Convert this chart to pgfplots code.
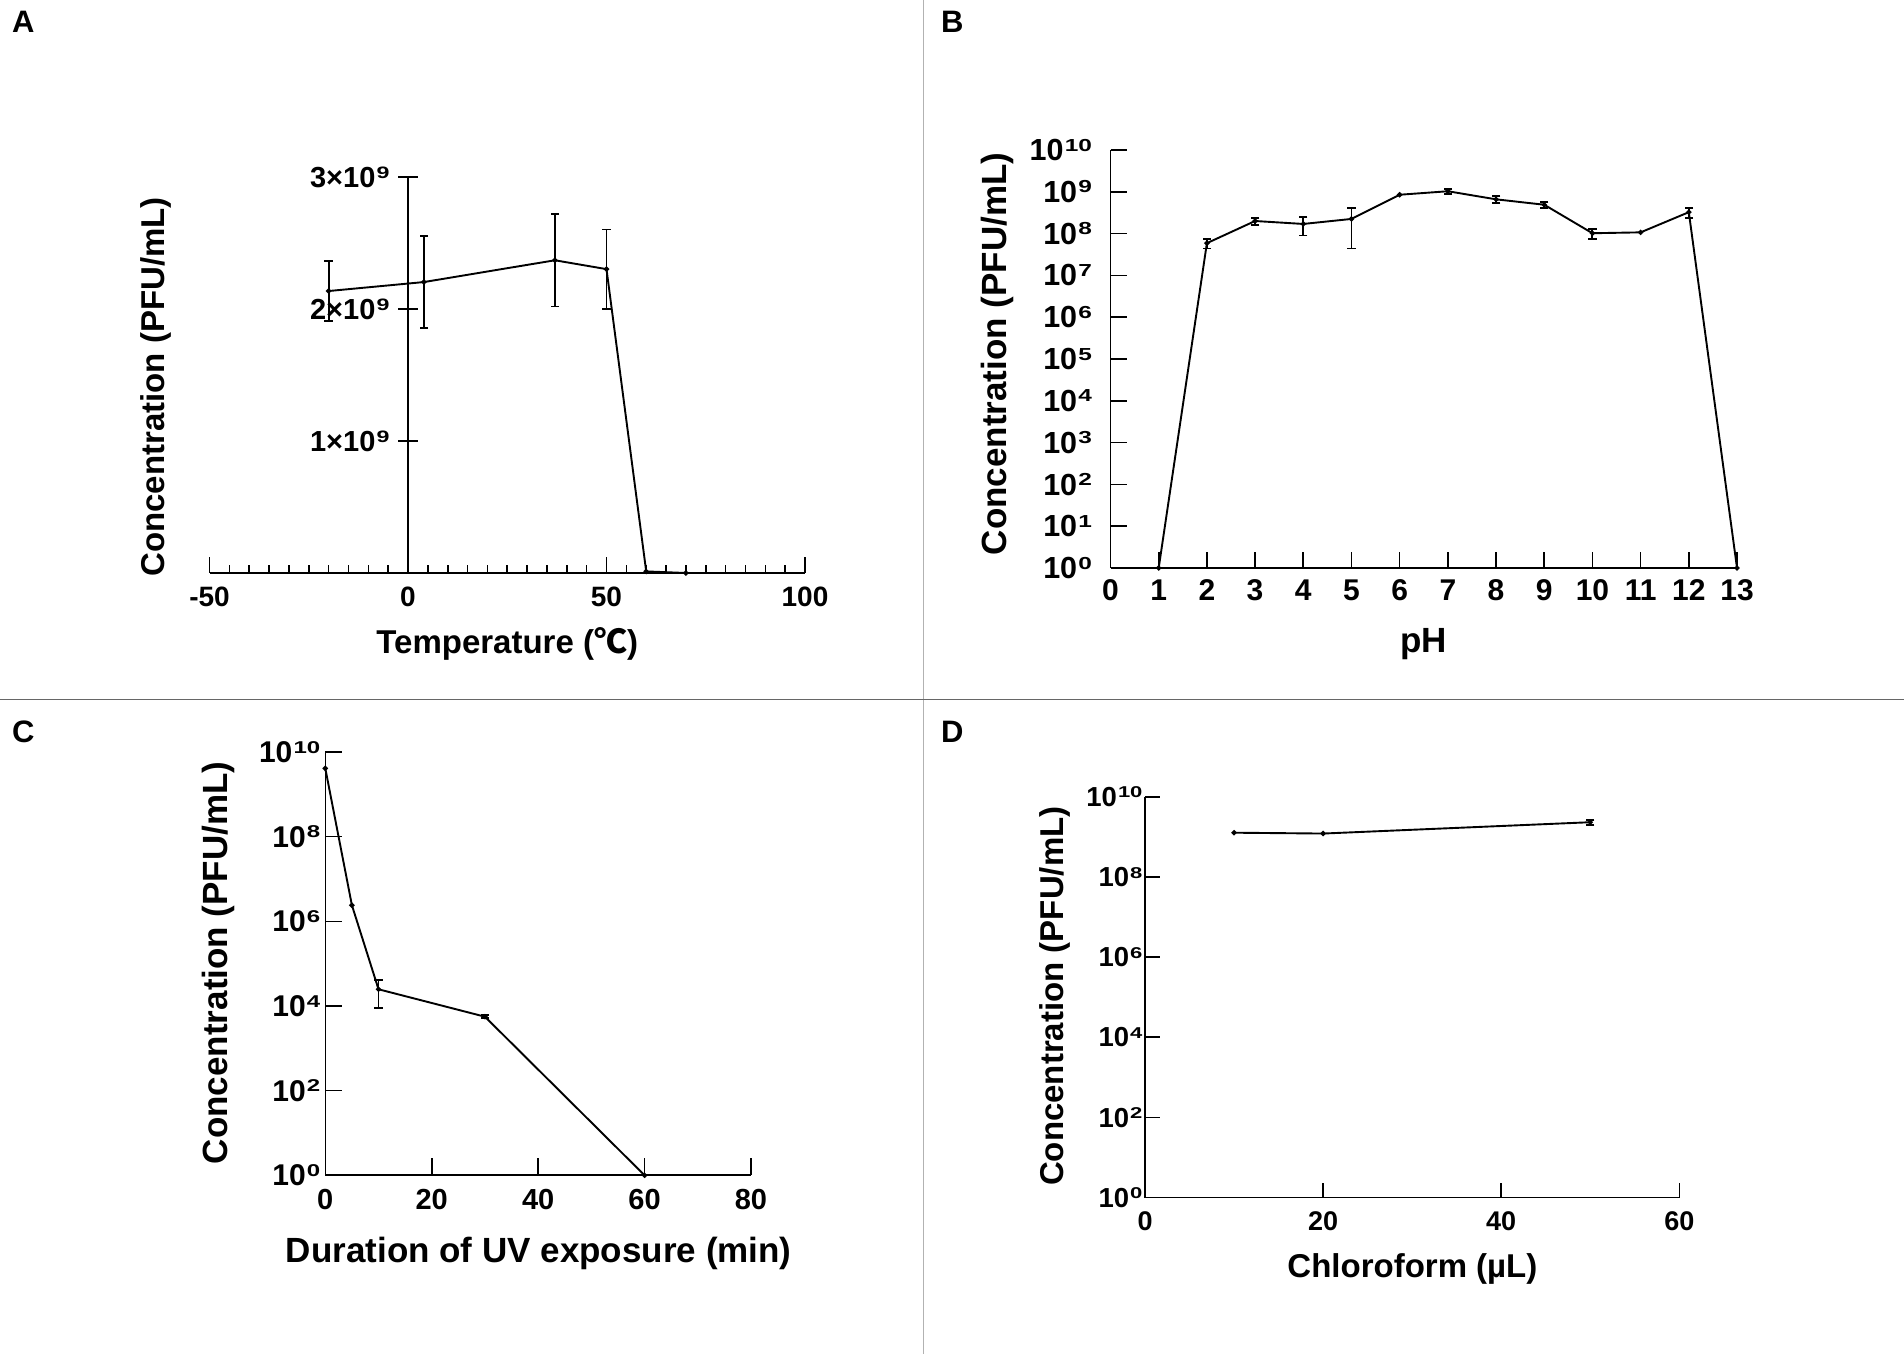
\documentclass[border=0pt]{standalone}
\usepackage{fontspec}
\setmainfont{Liberation Sans}
\newfontfamily\cjk{Noto Sans CJK SC}
\usepackage{graphicx}
\usepackage{pgfplots}
\pgfplotsset{compat=1.18}
\newcommand\sups[1]{\hspace{0.04em}\raisebox{0.31em}{\scalebox{0.8}[0.57]{#1}}}
\newcommand\fs[1]{\fontsize{#1}{#1}\selectfont\bfseries}
\pgfplotsset{
  panel/.style={
    scale only axis, anchor=south west, clip=false,
    axis x line=bottom, axis y line=left,
    axis line style={-, line width=1.6pt, black},
    tick align=inside, tick style={line width=1.6pt, black},
    xlabel style={anchor=center},
    ylabel style={anchor=center},
    unbounded coords=jump,
  },
  dat/.style={black, line width=1.9pt, mark=*, mark size=1.6pt, mark options={solid}},
  eb/.style={black, line width=1.9pt, mark=-, mark size=4.2pt, mark options={solid, line width=1.9pt}},
}
\begin{document}
\begin{tikzpicture}
\path[use as bounding box, fill=white] (0pt,0pt) rectangle (1904pt,1354pt);
\draw[gray!60, line width=1.5pt] (923.3pt,0pt) -- (923.3pt,1354pt);
\draw[gray!80!black, line width=1.3pt] (0pt,654.7pt) -- (1904pt,654.7pt);
\node[anchor=north west, inner sep=0, font=\fs{31}] at (12pt,1343pt) {A};
\node[anchor=north west, inner sep=0, font=\fs{31}] at (941pt,1343pt) {B};
\node[anchor=north west, inner sep=0, font=\fs{31}] at (12pt,633pt) {C};
\node[anchor=north west, inner sep=0, font=\fs{31}] at (941pt,633pt) {D};

% ---------------- Panel A ----------------
\begin{axis}[panel, at={(209.5pt,781pt)}, width=595.5pt, height=396pt,
  xmin=-50, xmax=100, ymin=0, ymax=3e9, axis y line=none,
  scaled y ticks=false,
  xtick={-50,0,50,100}, xticklabels={-50,0,50,100}, minor x tick num=9,
  major tick length=15.6pt, minor tick length=7.6pt,
  xticklabel shift=10pt,
  tick label style={font=\fs{28}}, label style={font=\fs{33}},
  xlabel={Temperature ({\cjk ℃})},
  xlabel style={at={(axis description cs:0.5,-0.179)}},
]
% mean values
\addplot[dat] table[x=x, y=y] {
x y
-20 2.136e9
4 2.204e9
37 2.369e9
50 2.302e9
60 0.012e9
70 0
};
% error bars (mean - SD, mean + SD)
\addplot[eb] coordinates {
(-20,1.906e9) (-20,2.366e9) (-20,nan)
(4,1.854e9) (4,2.554e9) (4,nan)
(37,2.019e9) (37,2.719e9) (37,nan)
(50,2.002e9) (50,2.602e9)
};
\end{axis}
\begin{axis}[scale only axis, anchor=south west, at={(408pt,781pt)}, width=1pt, height=396pt,
  xmin=0, xmax=1, ymin=0, ymax=3e9, scaled y ticks=false,
  axis x line=none, axis y line=left, axis line style={-, line width=1.6pt, black},
  tick align=center, major tick length=20pt, tick style={line width=1.6pt, black},
  ytick={1e9,2e9,3e9},
  yticklabels={1×10\sups{9},2×10\sups{9},3×10\sups{9}},
  yticklabel style={font=\fs{29}, anchor=east}, yticklabel shift=5pt,
  ylabel={Concentration (PFU/mL)}, label style={font=\fs{33}},
  ylabel style={at={(axis description cs:-252.6,0.470)}, anchor=center},
]
\end{axis}

% ---------------- Panel B ----------------
\begin{axis}[panel, at={(1110.5pt,786pt)}, width=626.5pt, height=418pt,
  xmin=0, xmax=13, ymode=log, ymin=1, ymax=1e10,
  xtick={0,1,...,13}, xticklabels={0,1,2,3,4,5,6,7,8,9,10,11,12,13},
  ytick={1,1e1,1e2,1e3,1e4,1e5,1e6,1e7,1e8,1e9,1e10},
  yticklabels={10\sups{0},10\sups{1},10\sups{2},10\sups{3},10\sups{4},10\sups{5},10\sups{6},10\sups{7},10\sups{8},10\sups{9},10\sups{10}},
  yminorticks=false,
  major tick length=16.5pt,
  xticklabel shift=8.5pt, yticklabel shift=15pt,
  xticklabel style={font=\fs{30}}, yticklabel style={font=\fs{30.5}},
  label style={font=\fs{35}},
  xlabel={pH},
  xlabel style={at={(axis description cs:0.5,-0.183)}},
  ylabel={Concentration (PFU/mL)},
  ylabel style={at={(axis description cs:-0.180,0.512)}},
]
\addplot[dat] table[x=x, y=y] {
x y
1 1
2 5.9e7
3 2.0e8
4 1.7e8
5 2.24e8
6 8.5e8
7 1.03e9
8 6.6e8
9 4.9e8
10 1.02e8
11 1.07e8
12 3.25e8
13 1
};
\addplot[eb] coordinates {
(2,4.4e7) (2,7.4e7) (2,nan)
(3,1.6e8) (3,2.4e8) (3,nan)
(4,0.9e8) (4,2.5e8) (4,nan)
(5,0.44e8) (5,4.04e8) (5,nan)
(7,0.88e9) (7,1.18e9) (7,nan)
(8,5.3e8) (8,7.9e8) (8,nan)
(9,4.05e8) (9,5.75e8) (9,nan)
(10,0.75e8) (10,1.29e8) (10,nan)
(12,2.4e8) (12,4.1e8)
};
\end{axis}

% ---------------- Panel C ----------------
\begin{axis}[panel, at={(325.3pt,178.7pt)}, width=425.7pt, height=423.3pt,
  xmin=0, xmax=80, ymode=log, ymin=1, ymax=1e10,
  xtick={0,20,40,60,80}, xticklabels={0,20,40,60,80},
  ytick={1,1e2,1e4,1e6,1e8,1e10},
  yticklabels={10\sups{0},10\sups{2},10\sups{4},10\sups{6},10\sups{8},10\sups{10}},
  yminorticks=false,
  major tick length=17pt,
  xticklabel shift=10.5pt, yticklabel shift=1.5pt,
  xticklabel style={font=\fs{29}}, yticklabel style={font=\fs{30}},
  label style={font=\fs{35}},
  xlabel={Duration of UV exposure (min)},
  xlabel style={at={(axis description cs:0.5015,-0.185)}},
  ylabel={Concentration (PFU/mL)},
  ylabel style={at={(axis description cs:-0.251,0.502)}},
]
\addplot[dat] table[x=x, y=y] {
x y
0 4.1e9
5 2.4e6
10 2.48e4
30 5.58e3
60 1
};
\addplot[eb] coordinates {
(10,0.88e4) (10,4.08e4) (10,nan)
(30,5.08e3) (30,6.08e3)
};
\end{axis}

% ---------------- Panel D ----------------
\begin{axis}[panel, at={(1145pt,156.4pt)}, width=534.3pt, height=400.8pt,
  xmin=0, xmax=60, ymode=log, ymin=1, ymax=1e10,
  xtick={0,20,40,60}, xticklabels={0,20,40,60},
  ytick={1,1e2,1e4,1e6,1e8,1e10},
  yticklabels={10\sups{0},10\sups{2},10\sups{4},10\sups{6},10\sups{8},10\sups{10}},
  yminorticks=false,
  major tick length=15pt,
  xticklabel shift=11pt, yticklabel shift=-1pt,
  xticklabel style={font=\fs{27}}, yticklabel style={font=\fs{27.5}},
  label style={font=\fs{33}},
  xlabel={Chloroform (µL)},
  xlabel style={at={(axis description cs:0.5005,-0.179)}},
  ylabel={Concentration (PFU/mL)},
  ylabel style={at={(axis description cs:-0.168,0.5025)}},
]
\addplot[dat] table[x=x, y=y] {
x y
10 1.27e9
20 1.21e9
50 2.32e9
};
\addplot[eb] coordinates {
(50,1.95e9) (50,2.69e9)
};
\end{axis}
\end{tikzpicture}
\end{document}
